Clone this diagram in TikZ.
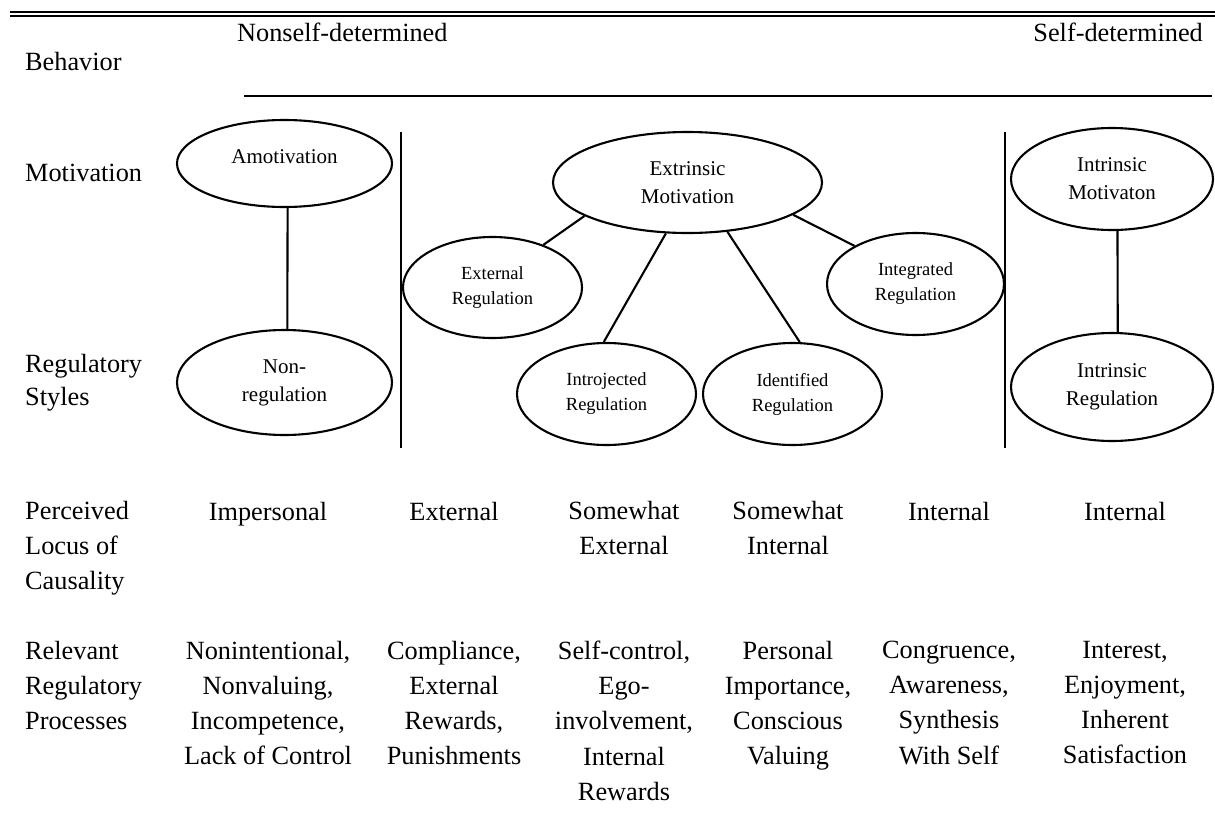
\documentclass[tikz,border=0pt]{standalone}
\usepackage{fontspec}
\setmainfont{Liberation Serif}
\usetikzlibrary{shapes.geometric}
\tikzset{
  ell/.style={draw, ellipse, line width=2.1pt, inner sep=0pt, align=center},
  bigell/.style={ell, font=\fontsize{21}{28}\selectfont},
  regell/.style={ell, font=\fontsize{18.5}{25}\selectfont},
  rowlabel/.style={anchor=north west, inner sep=0pt, align=left, font=\fontsize{26.3}{35.3}\selectfont,
    execute at begin node={\rule{0pt}{20pt}}},
  coltext/.style={anchor=north, inner sep=0pt, align=center, font=\fontsize{26.3}{35.3}\selectfont,
    execute at begin node={\rule{0pt}{20pt}}},
  conn/.style={line width=2.1pt},
  rulethick/.style={line width=2.1pt},
}
\begin{document}
\begin{tikzpicture}[x=1pt,y=-1pt]
\fill[white] (0,0) rectangle (1215,835);
\useasboundingbox (0,0) rectangle (1215,835);

% top rules
\draw[rulethick] (10,12) -- (1215,12);
\draw[rulethick] (10,15.8) -- (1215,15.8);
\draw[line width=2.6pt] (244,96) -- (1212,96);

% header texts
\node[rowlabel] (nsd) at (237,21.6) {Nonself-determined};
\node[rowlabel, anchor=north east] (sd) at (1203,21.6) {Self-determined};

% row labels
\node[rowlabel] (lbeh) at (25,50.6) {Behavior};
\node[rowlabel] (lmot) at (25,161.6) {Motivation};
\node[rowlabel, font=\fontsize{26.3}{33}\selectfont] (lreg) at (25,353.6) {Regulatory\\Styles};
\node[rowlabel] (lper) at (25,500.6) {Perceived\\Locus of\\Causality};
\node[rowlabel] (lrel) at (25,640.6) {Relevant\\Regulatory\\Processes};

% separators
\draw[conn] (401,132) -- (401,448);
\draw[conn] (1005,132) -- (1005,448);

% ellipses
\node[bigell, minimum width=215pt, minimum height=87pt, text depth=13pt] (amot) at (284.5,163.5) {Amotivation};
\node[bigell, minimum width=215pt, minimum height=105pt] (nonreg) at (284.5,382.5) {Non-\\regulation};
\node[bigell, minimum width=269pt, minimum height=101pt] (extr) at (687.5,182.5) {Extrinsic\\Motivation};
\node[regell, minimum width=179pt, minimum height=101pt] (extreg) at (492.5,287.5) {External\\Regulation};
\node[regell, minimum width=179pt, minimum height=102pt] (intro) at (606.5,394) {Introjected\\Regulation};
\node[regell, minimum width=179pt, minimum height=102pt] (ident) at (792.5,394) {Identified\\Regulation};
\node[regell, minimum width=177pt, minimum height=102pt] (integ) at (915.5,284) {Integrated\\Regulation};
\node[bigell, minimum width=202pt, minimum height=102pt] (intrm) at (1112,179) {Intrinsic\\Motivaton};
\node[bigell, minimum width=202pt, minimum height=108pt] (intrr) at (1112,387) {Intrinsic\\Regulation};

% connectors
\draw[conn] (amot.274) -- (nonreg.87);
\draw[conn] (extr.198) -- (extreg.40);
\draw[conn] (extr.247) -- (intro.93);
\draw[conn] (extr.309) -- (ident.82);
\draw[conn] (extr.343) -- (integ.148);
\draw[conn] (intrm.276) -- (intrr.84);

% perceived locus row
\node[coltext] (p1) at (268,500.6) {Impersonal};
\node[coltext] (p2) at (454,500.6) {External};
\node[coltext] (p3) at (624,500.6) {Somewhat\\External};
\node[coltext] (p4) at (788,500.6) {Somewhat\\Internal};
\node[coltext] (p5) at (949,500.6) {Internal};
\node[coltext] (p6) at (1125,500.6) {Internal};

% processes row
\node[coltext] (r1) at (268,640.6) {Nonintentional,\\Nonvaluing,\\Incompetence,\\Lack of Control};
\node[coltext] (r2) at (454,640.6) {Compliance,\\External\\Rewards,\\Punishments};
\node[coltext] (r3) at (624,640.6) {Self-control,\\Ego-\\involvement,\\Internal\\Rewards};
\node[coltext] (r4) at (788,640.6) {Personal\\Importance,\\Conscious\\Valuing};
\node[coltext] (r5) at (949,640.6) {Congruence,\\Awareness,\\Synthesis\\With Self};
\node[coltext] (r6) at (1125,640.6) {Interest,\\Enjoyment,\\Inherent\\Satisfaction};
\end{tikzpicture}
\end{document}
